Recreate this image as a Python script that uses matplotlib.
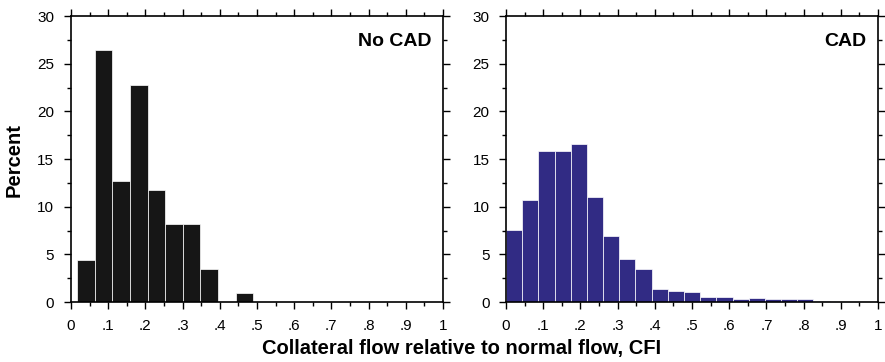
import numpy as np
import matplotlib.pyplot as plt
from matplotlib.ticker import MultipleLocator

plt.rcParams['font.family'] = ['Liberation Sans', 'DejaVu Sans']

# bin edges
nocad_start = 0.017
nocad_width = 0.0473
nocad_pct = [4.4, 26.4, 12.7, 22.8, 11.8, 8.2, 8.2, 3.5, 0.0, 0.9]

cad_start = 0.0
cad_width = 0.0435
cad_pct = [7.55, 10.7, 15.85, 15.85, 16.6, 11.0, 6.95, 4.5, 3.5, 1.33,
           1.15, 1.0, 0.56, 0.56, 0.3, 0.4, 0.3, 0.3, 0.3, 0.15]

xticks = np.arange(0, 1.01, 0.1)
xticklabels = ['0', '.1', '.2', '.3', '.4', '.5', '.6', '.7', '.8', '.9', '1']

fig = plt.figure(figsize=(8.85, 3.62), dpi=100)
ax1 = fig.add_axes([0.0802, 0.1657, 0.4203, 0.790])
ax2 = fig.add_axes([0.5718, 0.1657, 0.4203, 0.790])


def draw(ax, start, width, vals, color, label):
    lefts = start + width * np.arange(len(vals))
    ax.bar(lefts, vals, width=width, align='edge', color=color,
           edgecolor='white', linewidth=0.5, zorder=2)
    ax.set_xlim(0, 1)
    ax.set_ylim(0, 30)
    ax.set_xticks(xticks)
    ax.set_xticklabels(xticklabels)
    ax.set_yticks(range(0, 31, 5))
    ax.xaxis.set_minor_locator(MultipleLocator(0.05))
    ax.yaxis.set_minor_locator(MultipleLocator(2.5))
    ax.tick_params(which='both', direction='out', top=True, right=True,
                   labelsize=11, width=1.0)
    ax.tick_params(which='major', length=5, pad=7)
    ax.tick_params(which='minor', length=3)
    ax.tick_params(axis='y', which='major', pad=7)
    for s in ax.spines.values():
        s.set_linewidth(1.2)
    ax.text(0.97, 0.91, label, transform=ax.transAxes, ha='right', va='center',
            fontsize=14, fontweight='bold')


draw(ax1, nocad_start, nocad_width, nocad_pct, '#161616', 'No CAD')
draw(ax2, cad_start, cad_width, cad_pct, '#312b84', 'CAD')

fig.text(0.016, 0.559, 'Percent', rotation=90, ha='center', va='center',
         fontsize=14.5, fontweight='bold')
fig.text(0.5215, 0.036, 'Collateral flow relative to normal flow, CFI',
         ha='center', va='center', fontsize=14.5, fontweight='bold')

fig.savefig('out.png', dpi=100)
